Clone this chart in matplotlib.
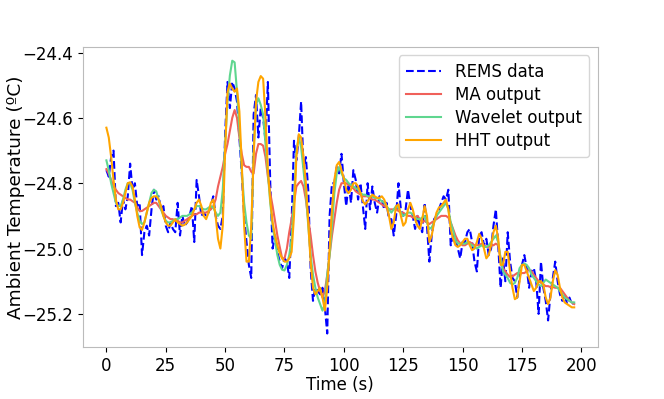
import matplotlib
matplotlib.use("Agg")
import matplotlib.pyplot as plt
import numpy as np

time_s = list(range(0, 198))

rems_data = [
    -24.76, -24.78, -24.72, -24.70, -24.87, -24.86, -24.92, -24.85, -24.88, -24.84,
    -24.74, -24.82, -24.80, -24.87, -24.86, -25.02, -24.95, -24.93, -24.96, -24.88,
    -24.82, -24.85, -24.84, -24.88, -24.87, -24.93, -24.95, -24.92, -24.94, -24.95,
    -24.86, -24.96, -24.90, -24.93, -24.92, -24.90, -24.87, -24.98, -24.79, -24.84,
    -24.90, -24.89, -24.90, -24.89, -24.87, -24.84, -24.90, -24.93, -24.94, -24.90,
    -24.65, -24.49, -24.57, -24.49, -24.51, -24.55, -24.66, -24.77, -24.90, -24.98,
    -25.05, -25.09, -24.59, -24.53, -24.66, -24.57, -24.60, -24.67, -24.49, -24.80,
    -25.00, -24.96, -25.01, -25.04, -25.06, -25.03, -25.04, -25.09, -24.92, -24.67,
    -24.73, -24.66, -24.55, -24.75, -24.72, -24.82, -25.06, -25.16, -25.12, -25.13,
    -25.14, -25.12, -25.18, -25.26, -24.90, -24.80, -24.80, -24.75, -24.77, -24.71,
    -24.80, -24.87, -24.80, -24.86, -24.76, -24.79, -24.85, -24.80, -24.87, -24.94,
    -24.80, -24.88, -24.81, -24.86, -24.89, -24.84, -24.85, -24.88, -24.86, -24.91,
    -24.91, -24.96, -24.90, -24.80, -24.88, -24.90, -24.88, -24.82, -24.87, -24.90,
    -24.94, -24.90, -24.93, -24.95, -24.86, -24.93, -25.04, -24.96, -24.91, -24.90,
    -24.88, -24.86, -24.84, -24.85, -24.82, -24.99, -24.96, -24.97, -25.00, -25.03,
    -24.98, -24.98, -24.95, -24.94, -24.98, -25.04, -25.07, -24.96, -24.95, -24.99,
    -24.97, -25.02, -25.00, -24.93, -24.88, -24.99, -25.12, -25.03, -25.10, -24.95,
    -25.04, -25.09, -25.10, -25.15, -25.09, -25.05, -25.02, -25.06, -25.12, -25.07,
    -25.06, -25.10, -25.20, -25.04, -25.12, -25.16, -25.22, -25.14, -25.09, -25.04,
    -25.10, -25.14, -25.16, -25.14, -25.17, -25.15, -25.17, -25.165,
]

ma_output = [
    -24.757, -24.77, -24.79, -24.81, -24.82, -24.83, -24.835, -24.84, -24.845, -24.85,
    -24.85, -24.855, -24.86, -24.875, -24.885, -24.885, -24.88, -24.875, -24.87, -24.865,
    -24.86, -24.86, -24.87, -24.88, -24.89, -24.90, -24.905, -24.91, -24.91, -24.915,
    -24.915, -24.92, -24.92, -24.915, -24.91, -24.905, -24.90, -24.895, -24.895, -24.89,
    -24.89, -24.89, -24.89, -24.885, -24.88, -24.87, -24.85, -24.81, -24.78, -24.75,
    -24.71, -24.68, -24.64, -24.60, -24.576, -24.60, -24.66, -24.71, -24.745, -24.75,
    -24.75, -24.765, -24.77, -24.71, -24.68, -24.68, -24.685, -24.72, -24.78, -24.83,
    -24.87, -24.915, -24.96, -24.995, -25.03, -25.03, -25.00, -24.95, -24.91, -24.86,
    -24.81, -24.80, -24.793, -24.81, -24.85, -24.91, -24.96, -25.02, -25.07, -25.105,
    -25.13, -25.15, -25.13, -25.08, -25.02, -24.96, -24.91, -24.86, -24.82, -24.80,
    -24.80, -24.80, -24.805, -24.81, -24.815, -24.825, -24.83, -24.835, -24.84, -24.84,
    -24.84, -24.845, -24.85, -24.85, -24.855, -24.86, -24.865, -24.87, -24.875, -24.88,
    -24.88, -24.88, -24.88, -24.885, -24.89, -24.89, -24.895, -24.90, -24.90, -24.905,
    -24.905, -24.90, -24.91, -24.92, -24.915, -24.92, -24.925, -24.92, -24.915, -24.91,
    -24.905, -24.90, -24.90, -24.90, -24.905, -24.92, -24.94, -24.96, -24.975, -24.984,
    -24.99, -24.99, -24.985, -24.98, -24.985, -24.99, -24.99, -24.99, -24.985, -24.99,
    -24.995, -24.995, -24.99, -24.99, -24.985, -24.99, -25.03, -25.06, -25.07, -25.08,
    -25.087, -25.085, -25.08, -25.075, -25.075, -25.075, -25.075, -25.07, -25.065, -25.07,
    -25.08, -25.09, -25.10, -25.105, -25.11, -25.115, -25.115, -25.118, -25.118, -25.12,
    -25.12, -25.12, -25.13, -25.14, -25.15, -25.16, -25.165, -25.17,
]

wavelet_output = [
    -24.73, -24.76, -24.80, -24.83, -24.86, -24.87, -24.87, -24.85, -24.82, -24.80,
    -24.80, -24.82, -24.86, -24.89, -24.915, -24.925, -24.92, -24.89, -24.86, -24.83,
    -24.82, -24.825, -24.85, -24.88, -24.90, -24.915, -24.92, -24.92, -24.915, -24.91,
    -24.91, -24.905, -24.90, -24.90, -24.90, -24.895, -24.89, -24.88, -24.87, -24.87,
    -24.875, -24.88, -24.88, -24.875, -24.87, -24.875, -24.89, -24.90, -24.89, -24.82,
    -24.68, -24.55, -24.47, -24.425, -24.43, -24.52, -24.63, -24.76, -24.86, -24.92,
    -24.96, -24.97, -24.70, -24.56, -24.54, -24.56, -24.59, -24.68, -24.77, -24.86,
    -24.93, -24.975, -25.02, -25.05, -25.065, -25.067, -25.05, -25.02, -24.97, -24.85,
    -24.70, -24.66, -24.69, -24.76, -24.83, -24.93, -25.02, -25.08, -25.12, -25.15,
    -25.17, -25.19, -25.17, -25.08, -25.02, -24.93, -24.83, -24.77, -24.75, -24.77,
    -24.785, -24.79, -24.80, -24.805, -24.81, -24.815, -24.82, -24.83, -24.835, -24.835,
    -24.84, -24.84, -24.84, -24.845, -24.845, -24.85, -24.855, -24.86, -24.87, -24.88,
    -24.89, -24.88, -24.87, -24.875, -24.89, -24.90, -24.895, -24.89, -24.89, -24.895,
    -24.905, -24.91, -24.91, -24.905, -24.90, -24.92, -24.94, -24.935, -24.92, -24.90,
    -24.89, -24.88, -24.87, -24.86, -24.88, -24.92, -24.945, -24.975, -24.985, -24.985,
    -24.985, -24.985, -24.98, -24.985, -24.99, -24.995, -25.00, -24.995, -24.99, -24.995,
    -24.995, -24.99, -24.98, -24.97, -24.96, -24.98, -25.03, -25.07, -25.08, -25.09,
    -25.105, -25.11, -25.105, -25.09, -25.06, -25.05, -25.046, -25.05, -25.06, -25.08,
    -25.09, -25.10, -25.11, -25.115, -25.105, -25.095, -25.10, -25.105, -25.11, -25.115,
    -25.12, -25.13, -25.14, -25.15, -25.155, -25.16, -25.165, -25.165,
]

hht_output = [
    -24.63, -24.66, -24.72, -24.79, -24.85, -24.88, -24.88, -24.86, -24.83, -24.80,
    -24.797, -24.81, -24.85, -24.90, -24.935, -24.943, -24.92, -24.89, -24.86, -24.845,
    -24.84, -24.84, -24.85, -24.87, -24.90, -24.92, -24.93, -24.93, -24.92, -24.91,
    -24.92, -24.925, -24.93, -24.927, -24.92, -24.91, -24.90, -24.88, -24.86, -24.85,
    -24.87, -24.90, -24.91, -24.89, -24.86, -24.85, -24.90, -24.97, -25.00, -24.93,
    -24.70, -24.52, -24.495, -24.51, -24.52, -24.51, -24.58, -24.74, -24.93, -25.04,
    -25.04, -24.93, -24.72, -24.55, -24.49, -24.472, -24.48, -24.60, -24.76, -24.85,
    -24.92, -24.96, -24.99, -25.015, -25.03, -25.04, -25.04, -25.03, -25.01, -24.90,
    -24.72, -24.65, -24.66, -24.72, -24.80, -24.92, -25.04, -25.12, -25.14, -25.13,
    -25.12, -25.15, -25.19, -25.12, -25.00, -24.88, -24.79, -24.745, -24.735, -24.76,
    -24.785, -24.82, -24.83, -24.82, -24.80, -24.80, -24.81, -24.83, -24.855, -24.865,
    -24.855, -24.845, -24.835, -24.84, -24.845, -24.845, -24.84, -24.85, -24.87, -24.90,
    -24.94, -24.92, -24.87, -24.865, -24.90, -24.93, -24.92, -24.88, -24.86, -24.88,
    -24.91, -24.93, -24.94, -24.91, -24.87, -24.90, -24.98, -24.96, -24.92, -24.89,
    -24.875, -24.87, -24.86, -24.85, -24.88, -24.94, -24.97, -24.99, -24.995, -24.99,
    -24.98, -24.97, -24.97, -24.99, -25.005, -25.00, -24.98, -24.955, -24.97, -25.00,
    -25.03, -25.02, -24.99, -24.95, -24.93, -24.97, -25.05, -25.05, -25.01, -25.01,
    -25.07, -25.12, -25.155, -25.15, -25.10, -25.05, -25.05, -25.07, -25.09, -25.11,
    -25.13, -25.12, -25.10, -25.10, -25.11, -25.15, -25.17, -25.15, -25.10, -25.066,
    -25.08, -25.12, -25.15, -25.165, -25.17, -25.175, -25.18, -25.18,
]

fig = plt.figure(figsize=(6.64, 3.99), dpi=100)
ax = fig.add_axes([0.125, 0.13, 0.775, 0.752])

ax.plot(time_s, rems_data, color="#0000ff", linestyle="--", linewidth=1.5, label="REMS data")
ax.plot(time_s, ma_output, color="#f0605a", linewidth=1.5, label="MA output")
ax.plot(time_s, wavelet_output, color="#5fd68f", linewidth=1.5, label="Wavelet output")
ax.plot(time_s, hht_output, color="#ffa500", linewidth=1.5, label="HHT output")

ax.set_xticks([0, 25, 50, 75, 100, 125, 150, 175, 200])
ax.set_yticks([-25.2, -25.0, -24.8, -24.6, -24.4])
ax.tick_params(labelsize=12)
ax.set_xlabel("Time (s)", fontsize=12, labelpad=0.5)
ax.set_ylabel("Ambient Temperature (ºC)", fontsize=13.3)
ax.yaxis.set_label_coords(-0.112, 0.5)
for s in ax.spines.values():
    s.set_color("#bbbbbb")
ax.legend(loc="upper right", fontsize=12, handlelength=2.1, borderpad=0.45,
          labelspacing=0.3)

fig.savefig("out.png", dpi=100)
